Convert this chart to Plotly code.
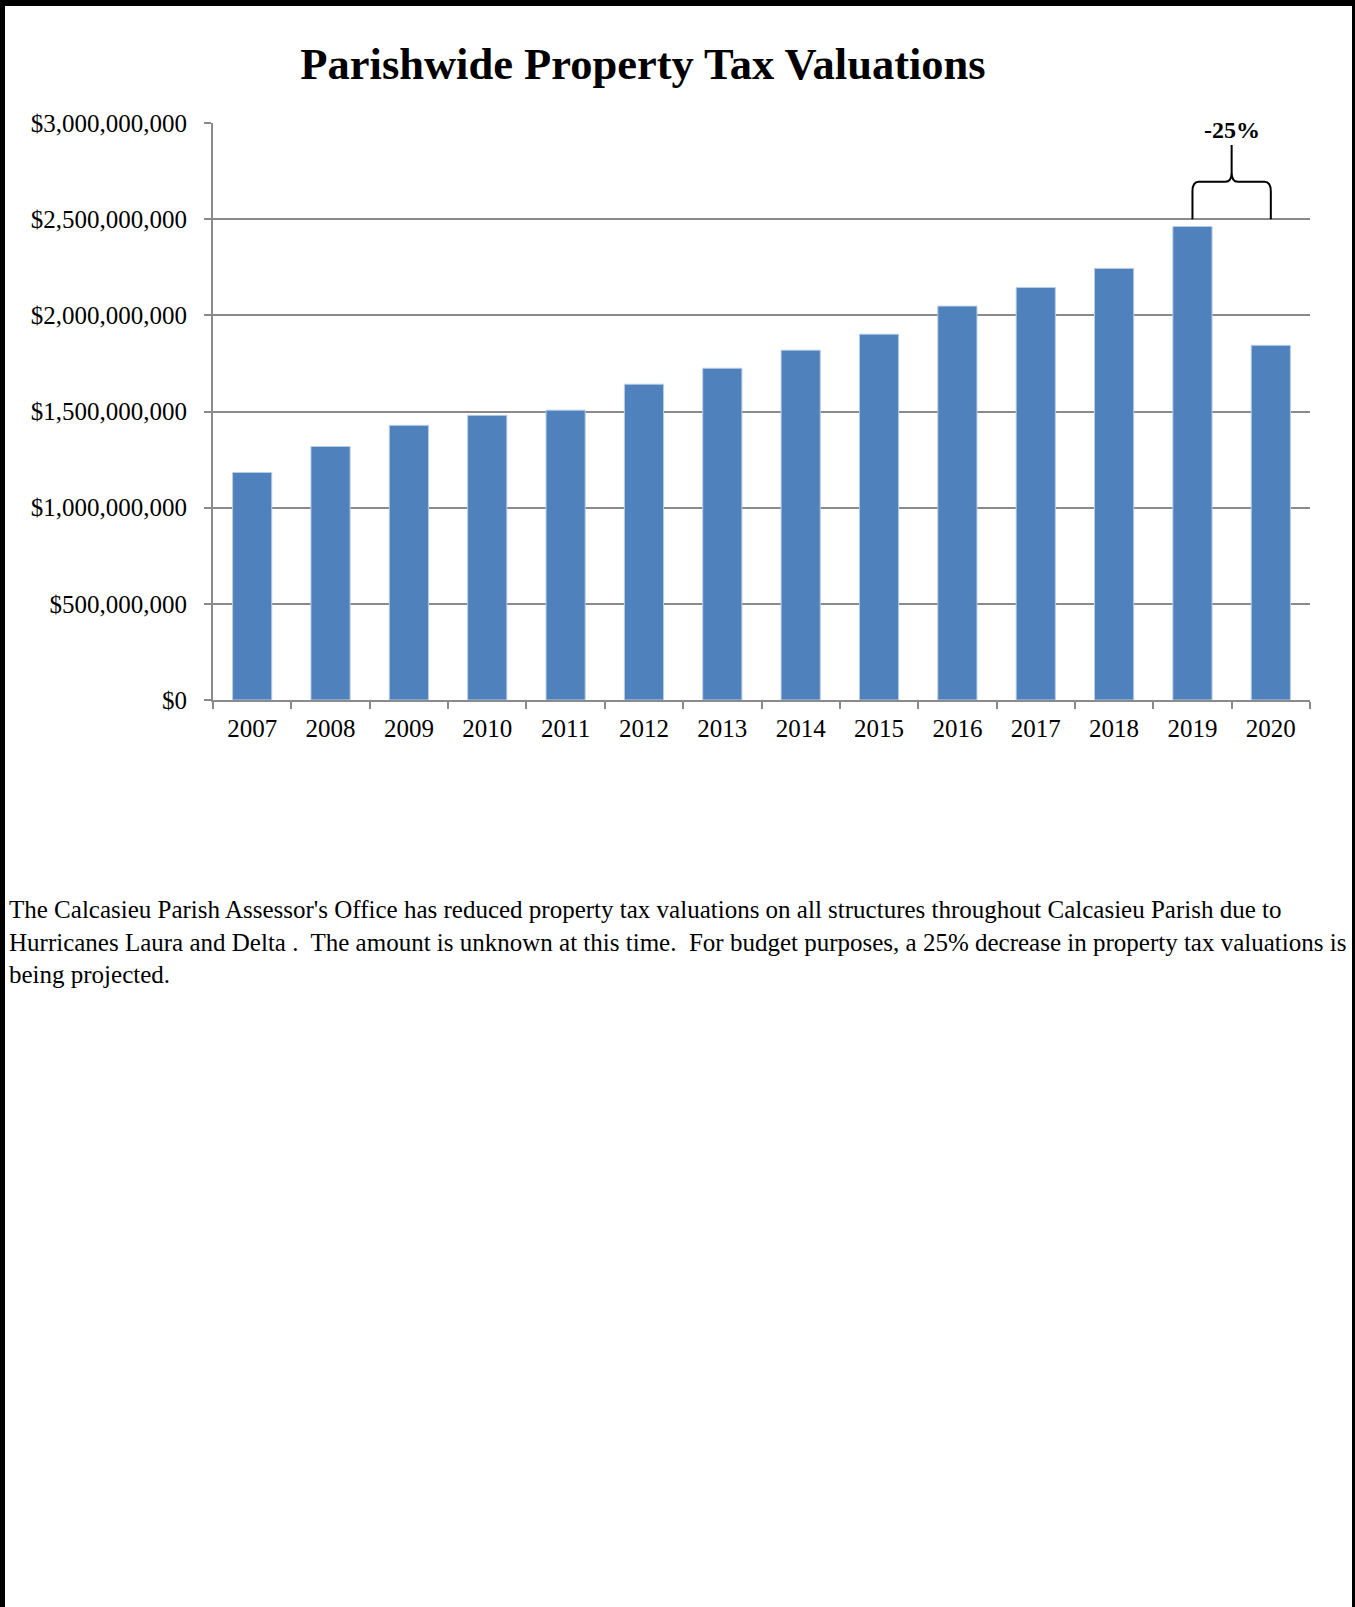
import plotly.graph_objects as go

years = ["2007", "2008", "2009", "2010", "2011", "2012", "2013",
         "2014", "2015", "2016", "2017", "2018", "2019", "2020"]
valuations = [1183e6, 1318e6, 1428e6, 1480e6, 1507e6, 1642e6, 1725e6,
              1819e6, 1902e6, 2048e6, 2145e6, 2244e6, 2462e6, 1844e6]
y_ticks = [0, 5e8, 1e9, 1.5e9, 2e9, 2.5e9, 3e9]
y_tick_text = ["$" + f"{v:,.0f}" for v in y_ticks]
title_text = "Parishwide Property Tax Valuations"
change_label = "-25%"
note_lines = [
    "The Calcasieu Parish Assessor's Office has reduced property tax valuations on all structures throughout Calcasieu Parish due to",
    "Hurricanes Laura and Delta .  The amount is unknown at this time.  For budget purposes, a 25% decrease in property tax valuations is",
    "being projected.",
]

W, H = 1355, 1607
L, R, T, B = 213, 1310, 123, 700
SERIF = "Liberation Serif, Times New Roman, serif"
GRID = "#8a8a8a"


def px_x(px):
    return (px - L) / (R - L)


def px_y(py):
    return (B - py) / (B - T)


fig = go.Figure()
fig.add_trace(go.Bar(
    x=years, y=valuations,
    marker=dict(color="#4F81BD", line=dict(color="#B9CDE5", width=1)),
    hoverinfo="x+y",
))

# bracket between 2019 and 2020 (category indices)
i0 = years.index("2019")
i1 = years.index("2020")
im = (i0 + i1) / 2
base = 2.5e9
hy = 2.694e9
top = 2.885e9
rx, ry = 0.08, 0.05e9
path = (f"M {i0},{base} L {i0},{hy - ry} Q {i0},{hy} {i0 + rx},{hy} "
        f"L {im - rx},{hy} Q {im},{hy} {im},{hy + ry} L {im},{top} "
        f"M {im},{hy + ry} Q {im},{hy} {im + rx},{hy} "
        f"L {i1 - rx},{hy} Q {i1},{hy} {i1},{hy - ry} L {i1},{base}")

shapes = [
    dict(type="path", xref="x", yref="y", path=path,
         line=dict(color="black", width=2)),
    # page frame (top, left, right)
    dict(type="rect", xref="paper", yref="paper", layer="above",
         x0=px_x(0), x1=px_x(W), y0=px_y(6), y1=px_y(0),
         fillcolor="black", line=dict(width=0)),
    dict(type="rect", xref="paper", yref="paper", layer="above",
         x0=px_x(0), x1=px_x(5), y0=px_y(H), y1=px_y(0),
         fillcolor="black", line=dict(width=0)),
    dict(type="rect", xref="paper", yref="paper", layer="above",
         x0=px_x(W - 3), x1=px_x(W), y0=px_y(H), y1=px_y(0),
         fillcolor="black", line=dict(width=0)),
]

annotations = [
    dict(x=im, y=2.962e9, xref="x", yref="y", text=f"<b>{change_label}</b>",
         showarrow=False, font=dict(family=SERIF, size=24, color="black"),
         xanchor="center", yanchor="middle"),
    dict(x=px_x(7), y=px_y(894), xref="paper", yref="paper",
         text="<br>".join(note_lines), showarrow=False, align="left",
         xanchor="left", yanchor="top",
         font=dict(family=SERIF, size=25, color="black")),
]

fig.update_layout(
    width=W, height=H,
    margin=dict(l=L, r=W - R, t=T, b=H - B, pad=0),
    paper_bgcolor="white", plot_bgcolor="white",
    showlegend=False,
    bargap=0.5,
    title=dict(text=f"<b>{title_text}</b>", x=643 / W, xanchor="center",
               y=1 - 63 / H, yanchor="middle",
               font=dict(family=SERIF, size=44.5, color="black")),
    shapes=shapes,
    annotations=annotations,
    xaxis=dict(type="category", categoryorder="array", categoryarray=years,
               showline=True, linecolor=GRID, linewidth=2,
               ticks="outside", tickson="boundaries", ticklen=7,
               tickcolor=GRID, tickwidth=2, showgrid=False,
               tickfont=dict(family=SERIF, size=25, color="black"),
               ticklabelstandoff=5),
    yaxis=dict(range=[0, 3e9], tickmode="array", tickvals=y_ticks,
               ticktext=y_tick_text, showline=True, linecolor=GRID,
               linewidth=2, ticks="outside", ticklen=7, tickcolor=GRID,
               tickwidth=2, showgrid=True, gridcolor=GRID, gridwidth=1.5,
               zeroline=False,
               tickfont=dict(family=SERIF, size=25, color="black"),
               ticklabelstandoff=12),
)

fig.write_html("out.html", config={"displayModeBar": False},
               post_script="document.body.style.margin='0';document.body.style.overflow='hidden';")
